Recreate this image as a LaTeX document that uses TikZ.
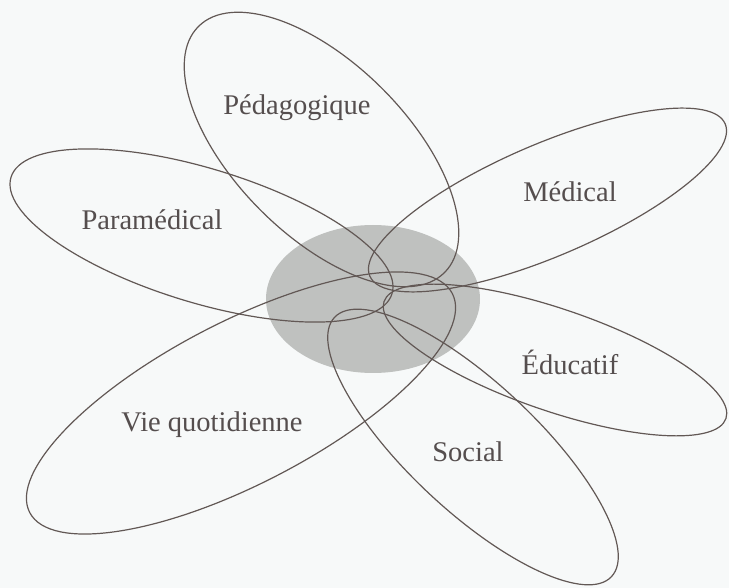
\documentclass[tikz,border=0pt]{standalone}
\usepackage{fontspec}
\setmainfont{Liberation Serif}
\definecolor{paper}{RGB}{247,249,249}
\definecolor{petalline}{RGB}{98,88,85}
\definecolor{labeltext}{RGB}{85,78,78}
\definecolor{corefill}{RGB}{191,193,191}
\tikzset{
  petal/.style={draw=petalline, line width=1.2pt},
  petallabel/.style={font=\fontsize{28.5}{32}\selectfont, text=labeltext, inner sep=0pt},
}
% \drawpetal{centre x}{centre y}{angle}{half length}{half width}
\newcommand{\drawpetal}[5]{%
  \draw[petal, rotate around={#3:(#1,#2)}] (#1,#2) ellipse [x radius=#4, y radius=#5];}
\begin{document}
\begin{tikzpicture}[x=1pt,y=-1pt]
  % page
  \fill[paper] (0,0) rectangle (729,588);
  \useasboundingbox (0,0) rectangle (729,588);

  % shaded core
  \fill[corefill] (373,299) ellipse [x radius=107, y radius=74];

  % six petals
  \drawpetal{321.5}{149.5}{-45}{174}{86}     % Pedagogique
  \drawpetal{547.5}{200}{23.2}{193.3}{56}    % Medical
  \drawpetal{201.5}{235.5}{-17}{199.2}{67}   % Paramedical
  \drawpetal{555}{360}{-18.9}{180.7}{51}     % Educatif
  \drawpetal{473}{447}{-43.1}{189.7}{64}     % Social
  \drawpetal{241}{403}{27.4}{238}{81}        % Vie quotidienne

  % labels
  \node[petallabel] (ped)  at (297,108) {Pédagogique};
  \node[petallabel] (med)  at (570,192) {Médical};
  \node[petallabel] (para) at (152,220) {Paramédical};
  \node[petallabel] (edu)  at (570,362) {Éducatif};
  \node[petallabel] (vie)  at (212,425) {Vie quotidienne};
  \node[petallabel] (soc)  at (468,452) {Social};
\end{tikzpicture}
\end{document}
